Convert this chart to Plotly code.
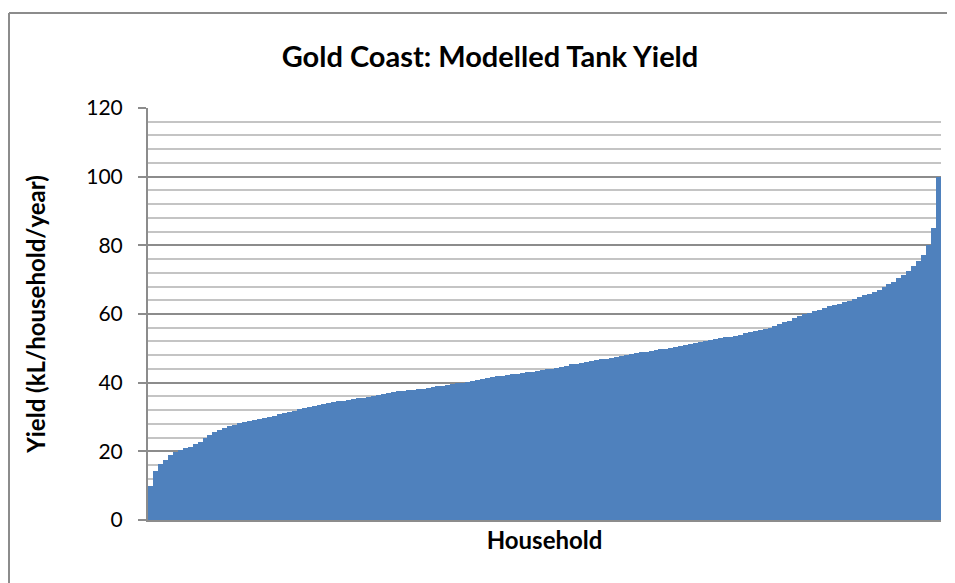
import plotly.graph_objects as go

# Modelled tank yield per household (kL/household/year), sorted ascending
yield_kl = [
    10.0, 14.3, 16.3, 17.6, 18.9, 19.7, 20.4, 20.9, 21.3, 22.0,
    22.8, 23.8, 24.7, 25.5, 26.2, 26.8, 27.4, 27.8, 28.2, 28.6,
    28.9, 29.2, 29.5, 29.8, 30.1, 30.4, 30.8, 31.1, 31.5, 31.8,
    32.2, 32.5, 32.9, 33.2, 33.6, 33.9, 34.2, 34.4, 34.6, 34.8,
    35.0, 35.2, 35.4, 35.5, 35.7, 36.0, 36.3, 36.6, 36.9, 37.2,
    37.5, 37.6, 37.8, 38.0, 38.1, 38.3, 38.5, 38.6, 38.9, 39.1,
    39.3, 39.6, 39.8, 40.0, 40.3, 40.5, 40.8, 41.1, 41.3, 41.6,
    41.8, 42.0, 42.2, 42.4, 42.6, 42.8, 43.0, 43.2, 43.5, 43.7,
    43.9, 44.1, 44.4, 44.7, 45.0, 45.3, 45.5, 45.8, 46.0, 46.3,
    46.5, 46.8, 47.0, 47.3, 47.5, 47.8, 48.1, 48.3, 48.6, 48.8,
    49.0, 49.2, 49.5, 49.7, 49.9, 50.1, 50.4, 50.7, 51.0, 51.3,
    51.6, 51.9, 52.2, 52.4, 52.7, 52.9, 53.2, 53.4, 53.7, 54.0,
    54.4, 54.7, 55.0, 55.4, 55.7, 56.0, 56.5, 57.1, 57.6, 58.1,
    58.8, 59.4, 59.9, 60.4, 60.8, 61.3, 61.7, 62.2, 62.6, 63.0,
    63.5, 63.9, 64.4, 64.9, 65.4, 65.9, 66.5, 67.1, 67.8, 68.6,
    69.4, 70.4, 71.5, 72.6, 73.9, 75.4, 77.3, 80.0, 85.0, 100.0,
]
households = list(range(1, len(yield_kl) + 1))
y_ticks = [0, 20, 40, 60, 80, 100, 120]

FONT = "Lato, 'Open Sans', sans-serif"
BAR = "#4f81bd"
MAJOR = "#8c8c8c"
MINOR = "#c4c4c4"

fig = go.Figure(
    go.Bar(
        x=households,
        y=yield_kl,
        marker=dict(color=BAR, line=dict(width=0)),
        hoverinfo="y",
    )
)

# page body adds an 8px offset; margins compensate for it
L, R, T, B = 140, 14, 100, 63
W, H = 947, 575
pw = W - L - R
ph = H - T - B

fig.update_layout(
    width=W,
    height=H,
    margin=dict(l=L, r=R, t=T, b=B),
    paper_bgcolor="white",
    plot_bgcolor="white",
    bargap=0,
    showlegend=False,
    font=dict(family=FONT, color="black"),
    title=dict(
        text="<b>Gold Coast: Modelled Tank Yield</b>",
        x=482 / W,
        xref="container",
        xanchor="center",
        y=1 - 49 / H,
        yref="container",
        yanchor="middle",
        font=dict(size=29, family=FONT, color="black"),
    ),
    xaxis=dict(
        range=[0.5, len(yield_kl) + 0.5],
        showticklabels=False,
        ticks="",
        showgrid=False,
        zeroline=False,
        showline=True,
        linecolor=MAJOR,
        linewidth=2,
        title=dict(text="<b>Household</b>", font=dict(size=24, family=FONT), standoff=11),
    ),
    yaxis=dict(
        range=[0, 120],
        tickvals=y_ticks,
        ticktext=[str(v) for v in y_ticks],
        tickfont=dict(size=21, family=FONT),
        ticks="outside",
        ticklen=8,
        tickwidth=2,
        tickcolor=MAJOR,
        showline=True,
        linecolor=MAJOR,
        linewidth=2,
        showgrid=True,
        gridcolor=MAJOR,
        gridwidth=1.5,
        zeroline=False,
        minor=dict(dtick=4, showgrid=True, gridcolor=MINOR, gridwidth=1.5, ticks=""),
        ticklabelstandoff=11,
        title=dict(text="<b>Yield (kL/household/year)</b>", font=dict(size=24, family=FONT), standoff=34),
    ),
)

# Outer chart-area border: only its left and top edges fall inside the picture
x_left = (1 - L) / pw
y_top = (H - B - 5) / ph
border = dict(color="#8c8c8c", width=2)
fig.add_shape(type="line", xref="paper", yref="paper",
              x0=x_left, x1=x_left, y0=-1.0, y1=y_top, line=border, layer="below")
fig.add_shape(type="line", xref="paper", yref="paper",
              x0=x_left, x1=2.0, y0=y_top, y1=y_top, line=border, layer="below")

fig.write_html(
    "out.html",
    config={"displayModeBar": False},
    post_script="document.documentElement.style.overflow='hidden';document.body.style.overflow='hidden';",
)
